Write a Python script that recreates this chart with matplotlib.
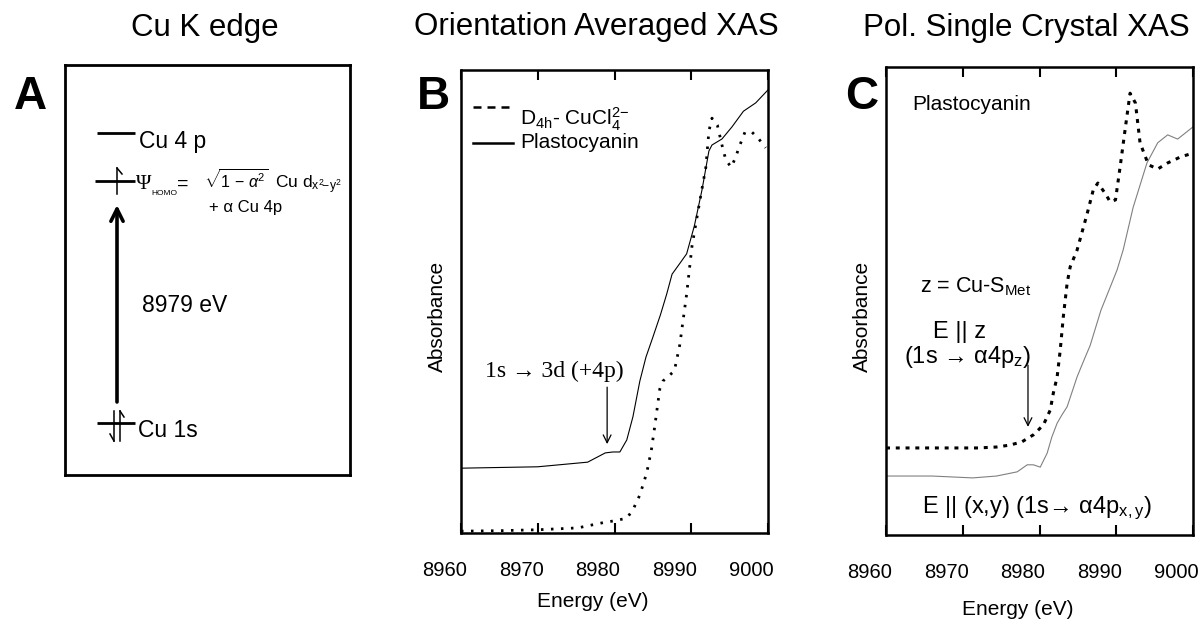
import matplotlib
matplotlib.use('Agg')
import matplotlib.pyplot as plt
import matplotlib.transforms as mtransforms

# figure size in pixels
W, H = 1203, 621

plt.rcParams['font.family'] = ['Liberation Sans', 'DejaVu Sans']
plt.rcParams['mathtext.fontset'] = 'custom'
plt.rcParams['mathtext.rm'] = 'Liberation Sans'
plt.rcParams['mathtext.it'] = 'Liberation Sans:italic'
plt.rcParams['mathtext.bf'] = 'Liberation Sans:bold'

# ---- data ----
energy_ticks = [8960, 8970, 8980, 8990, 9000]

# panel B: plastocyanin (solid) and D4h CuCl4 2- (dotted)
b_pc_e = [8960, 8970, 8976.5, 8978.8, 8979.8, 8980.7, 8981.6, 8982.4, 8983.3, 8984.1,
          8985.0, 8986.0, 8986.8, 8987.5, 8988.5, 8989.4, 8990.4, 8991.4, 8992.3,
          8992.7, 8994.0, 8995.3, 8996.8, 8998.4, 9000]
b_pc_abs = [0.140, 0.143, 0.153, 0.173, 0.175, 0.175, 0.201, 0.251, 0.328, 0.380,
            0.423, 0.472, 0.516, 0.559, 0.582, 0.603, 0.663, 0.741, 0.825,
            0.838, 0.851, 0.877, 0.911, 0.929, 0.957]

b_cucl_e = [8960, 8965, 8970, 8975.2, 8979.0, 8979.9, 8981.6, 8982.4, 8983.3, 8984.2,
            8984.8, 8985.2, 8985.9, 8986.3, 8987.8, 8988.5, 8989.4, 8990.1, 8991.0,
            8991.9, 8992.3, 8992.7, 8993.4, 8994.0, 8994.5, 8995.2, 8995.8, 8996.2,
            8997.0, 8997.9, 8998.8, 8999.7]
b_cucl_abs = [0.004, 0.005, 0.007, 0.011, 0.024, 0.026, 0.032, 0.050, 0.082, 0.130,
              0.179, 0.225, 0.311, 0.328, 0.350, 0.406, 0.516, 0.620, 0.706,
              0.790, 0.868, 0.896, 0.881, 0.838, 0.806, 0.790, 0.812, 0.832,
              0.866, 0.866, 0.851, 0.832]

# panel C: E || z (dotted) and E || (x,y) (grey solid)
c_z_e = [8960, 8966, 8972, 8974.4, 8976.1, 8977.7, 8979.2, 8980.5, 8981.4, 8981.8,
         8982.3, 8982.7, 8983.1, 8983.6, 8984.0, 8984.9, 8986.2, 8987.0, 8987.6,
         8988.6, 8989.2, 8989.9, 8990.5, 8991.2, 8991.8, 8992.5, 8993.1, 8994.2,
         8995.4, 8996.7, 8998.4, 9000]
c_z_abs = [0.186, 0.186, 0.186, 0.188, 0.192, 0.199, 0.214, 0.235, 0.267, 0.303,
           0.338, 0.395, 0.466, 0.538, 0.573, 0.609, 0.686, 0.737, 0.752,
           0.729, 0.712, 0.716, 0.786, 0.872, 0.944, 0.923, 0.838, 0.791,
           0.782, 0.795, 0.808, 0.816]

c_xy_e = [8960, 8966, 8971.3, 8974.4, 8977.1, 8978.4, 8979.2, 8980.1, 8981.0, 8981.6,
          8982.3, 8982.9, 8983.6, 8984.9, 8985.7, 8986.6, 8988.0, 8990.1, 8990.9,
          8992.2, 8994.0, 8995.4, 8996.7, 8998.0, 9000]
c_xy_abs = [0.126, 0.126, 0.122, 0.126, 0.135, 0.150, 0.150, 0.145, 0.175, 0.209,
            0.239, 0.256, 0.274, 0.338, 0.370, 0.405, 0.480, 0.566, 0.609,
            0.700, 0.795, 0.838, 0.855, 0.846, 0.872]

fig = plt.figure(figsize=(W / 100, H / 100), dpi=100)


def box(l, t, r, b):
    # pixel box (from top-left) -> figure fraction rect
    return [l / W, 1 - b / H, (r - l) / W, (b - t) / H]


def fxy(x, y):
    return x / W, 1 - y / H


# ---- titles and panel letters ----
fig.text(*fxy(205, 36), 'Cu K edge', fontsize=22.5, ha='center', va='baseline')
fig.text(*fxy(596, 35), 'Orientation Averaged XAS', fontsize=22.5, ha='center', va='baseline')
fig.text(*fxy(1026, 36), 'Pol. Single Crystal XAS', fontsize=22.5, ha='center', va='baseline')
for letter, x in [('A', 30), ('B', 433), ('C', 862)]:
    fig.text(*fxy(x, 109), letter, fontsize=33, fontweight='bold', ha='center', va='baseline')

# ---- panel A: energy level diagram (drawn in pixel units) ----
ax_a = fig.add_axes(box(65, 65, 350, 475))
ax_a.set_xlim(65, 350)
ax_a.set_ylim(475, 65)
ax_a.set_xticks([])
ax_a.set_yticks([])
for s in ax_a.spines.values():
    s.set_linewidth(2)

lev = dict(color='black', lw=2, solid_capstyle='butt')
spin = dict(color='black', lw=1.1)
# Cu 4p
ax_a.plot([97, 135], [133, 133], **lev)
ax_a.text(139, 148, 'Cu 4 p', fontsize=16.5, va='baseline')
# HOMO
ax_a.plot([95, 135], [181, 181], **lev)
ax_a.plot([117, 117], [194, 168], **spin)
ax_a.plot([117, 122], [168, 174], **spin)
ax_a.text(136, 189, '\u03a8', fontsize=15, family='Liberation Serif', va='baseline')
ax_a.text(151, 195, 'HOMO', fontsize=6, va='baseline')
ax_a.text(177, 189, '=', fontsize=14, va='baseline')
ax_a.text(204, 188, r'$\sqrt{1\ \mathrm{-}\ \alpha^2}$', fontsize=11.5, va='baseline')
ax_a.text(275, 188, r'Cu d$_{\mathrm{x^2\!\!-\!y^2}}$', fontsize=12.5, va='baseline')
ax_a.text(209, 212, '+ \u03b1 Cu 4p', fontsize=12, va='baseline')
# transition arrow
ax_a.annotate('', xy=(117, 205), xytext=(117, 402),
              arrowprops=dict(arrowstyle='->', lw=2.6, color='black',
                              mutation_scale=22, shrinkA=0, shrinkB=0))
ax_a.text(142, 305, '8979 eV', fontsize=16.5, va='center')
# Cu 1s
ax_a.plot([97, 135], [423, 423], **lev)
ax_a.plot([120, 120], [441, 411], **spin)
ax_a.plot([120, 124], [411, 417], **spin)
ax_a.plot([114, 114], [411, 441], **spin)
ax_a.plot([114, 110], [441, 434], **spin)
ax_a.text(138, 437, 'Cu 1s', fontsize=16.5, va='baseline')


# ---- XAS axes ----
def xas_axes(rect, label_x, label_y):
    ax = fig.add_axes(box(*rect))
    ax.set_xlim(8960, 9000)
    ax.set_ylim(0, 1)
    ax.set_xticks(energy_ticks)
    ax.set_yticks([])
    ax.tick_params(axis='x', direction='in', top=True, length=7, width=1.5,
                   labelsize=14.5, pad=20)
    shift = mtransforms.ScaledTranslation(-16.5 / 100, 0, fig.dpi_scale_trans)
    for tick in ax.xaxis.get_major_ticks():
        tick.label1.set_transform(tick.label1.get_transform() + shift)
    for s in ax.spines.values():
        s.set_linewidth(1.8)
    ax.set_xlabel('Energy (eV)', fontsize=15)
    ax.xaxis.set_label_coords(0.43, label_x)
    ax.set_ylabel('Absorbance', fontsize=15)
    ax.yaxis.set_label_coords(-0.046, label_y)
    return ax


# panel B
ax_b = xas_axes((461, 70, 768, 533), -0.127, 0.467)
ax_b.plot(b_pc_e, b_pc_abs, color='black', lw=0.8)
ax_b.plot(b_cucl_e, b_cucl_abs, color='black', lw=2.0, linestyle=(0, (0.9, 2.7)),
          clip_on=False)
ax_b.plot([0.039, 0.170], [0.920, 0.920], transform=ax_b.transAxes, color='black',
          lw=1.8, linestyle=(0, (3.2, 2.4)))
ax_b.plot([0.039, 0.170], [0.842, 0.842], transform=ax_b.transAxes, color='black', lw=1.8)
ax_b.text(0.192, 0.881, r'D$_{\mathrm{4h}}$- CuCl$_{4}^{2\mathrm{-}}$', transform=ax_b.transAxes,
          fontsize=15, va='baseline')
ax_b.text(0.192, 0.832, 'Plastocyanin', transform=ax_b.transAxes, fontsize=15, va='baseline')
ax_b.text(0.303, 0.350, '1s \u2192 3d (+4p)', transform=ax_b.transAxes, fontsize=17,
          family='Liberation Serif', ha='center', va='center')
ax_b.annotate('', xy=(0.476, 0.192), xytext=(0.476, 0.315), xycoords='axes fraction',
              arrowprops=dict(arrowstyle='->', lw=0.9, color='black',
                              mutation_scale=14, shrinkA=0, shrinkB=0))

# panel C
ax_c = xas_axes((886, 67, 1193, 535), -0.139, 0.466)
ax_c.plot(c_xy_e, c_xy_abs, color='#808080', lw=0.8)
ax_c.plot(c_z_e, c_z_abs, color='black', lw=2.2, linestyle=(0, (1.3, 1.9)))
ax_c.text(0.085, 0.919, 'Plastocyanin', transform=ax_c.transAxes, fontsize=15, va='center')
ax_c.text(0.111, 0.519, r'z = Cu-S$_{\mathrm{Met}}$', transform=ax_c.transAxes,
          fontsize=15.5, va='baseline')
ax_c.text(0.238, 0.421, 'E || z', transform=ax_c.transAxes, fontsize=17, ha='center',
          va='baseline')
ax_c.text(0.265, 0.368, '(1s \u2192 \u03b14p$_\\mathrm{z}$)', transform=ax_c.transAxes,
          fontsize=17, ha='center', va='baseline')
ax_c.annotate('', xy=(0.4625, 0.231), xytext=(0.4625, 0.363), xycoords='axes fraction',
              arrowprops=dict(arrowstyle='->', lw=0.9, color='black',
                              mutation_scale=14, shrinkA=0, shrinkB=0))
ax_c.text(0.492, 0.047, 'E || (x,y) (1s\u2192 \u03b14p$_{\\mathrm{x,y}}$)',
          transform=ax_c.transAxes, fontsize=17, ha='center', va='baseline')

fig.savefig('out.png', dpi=100)
